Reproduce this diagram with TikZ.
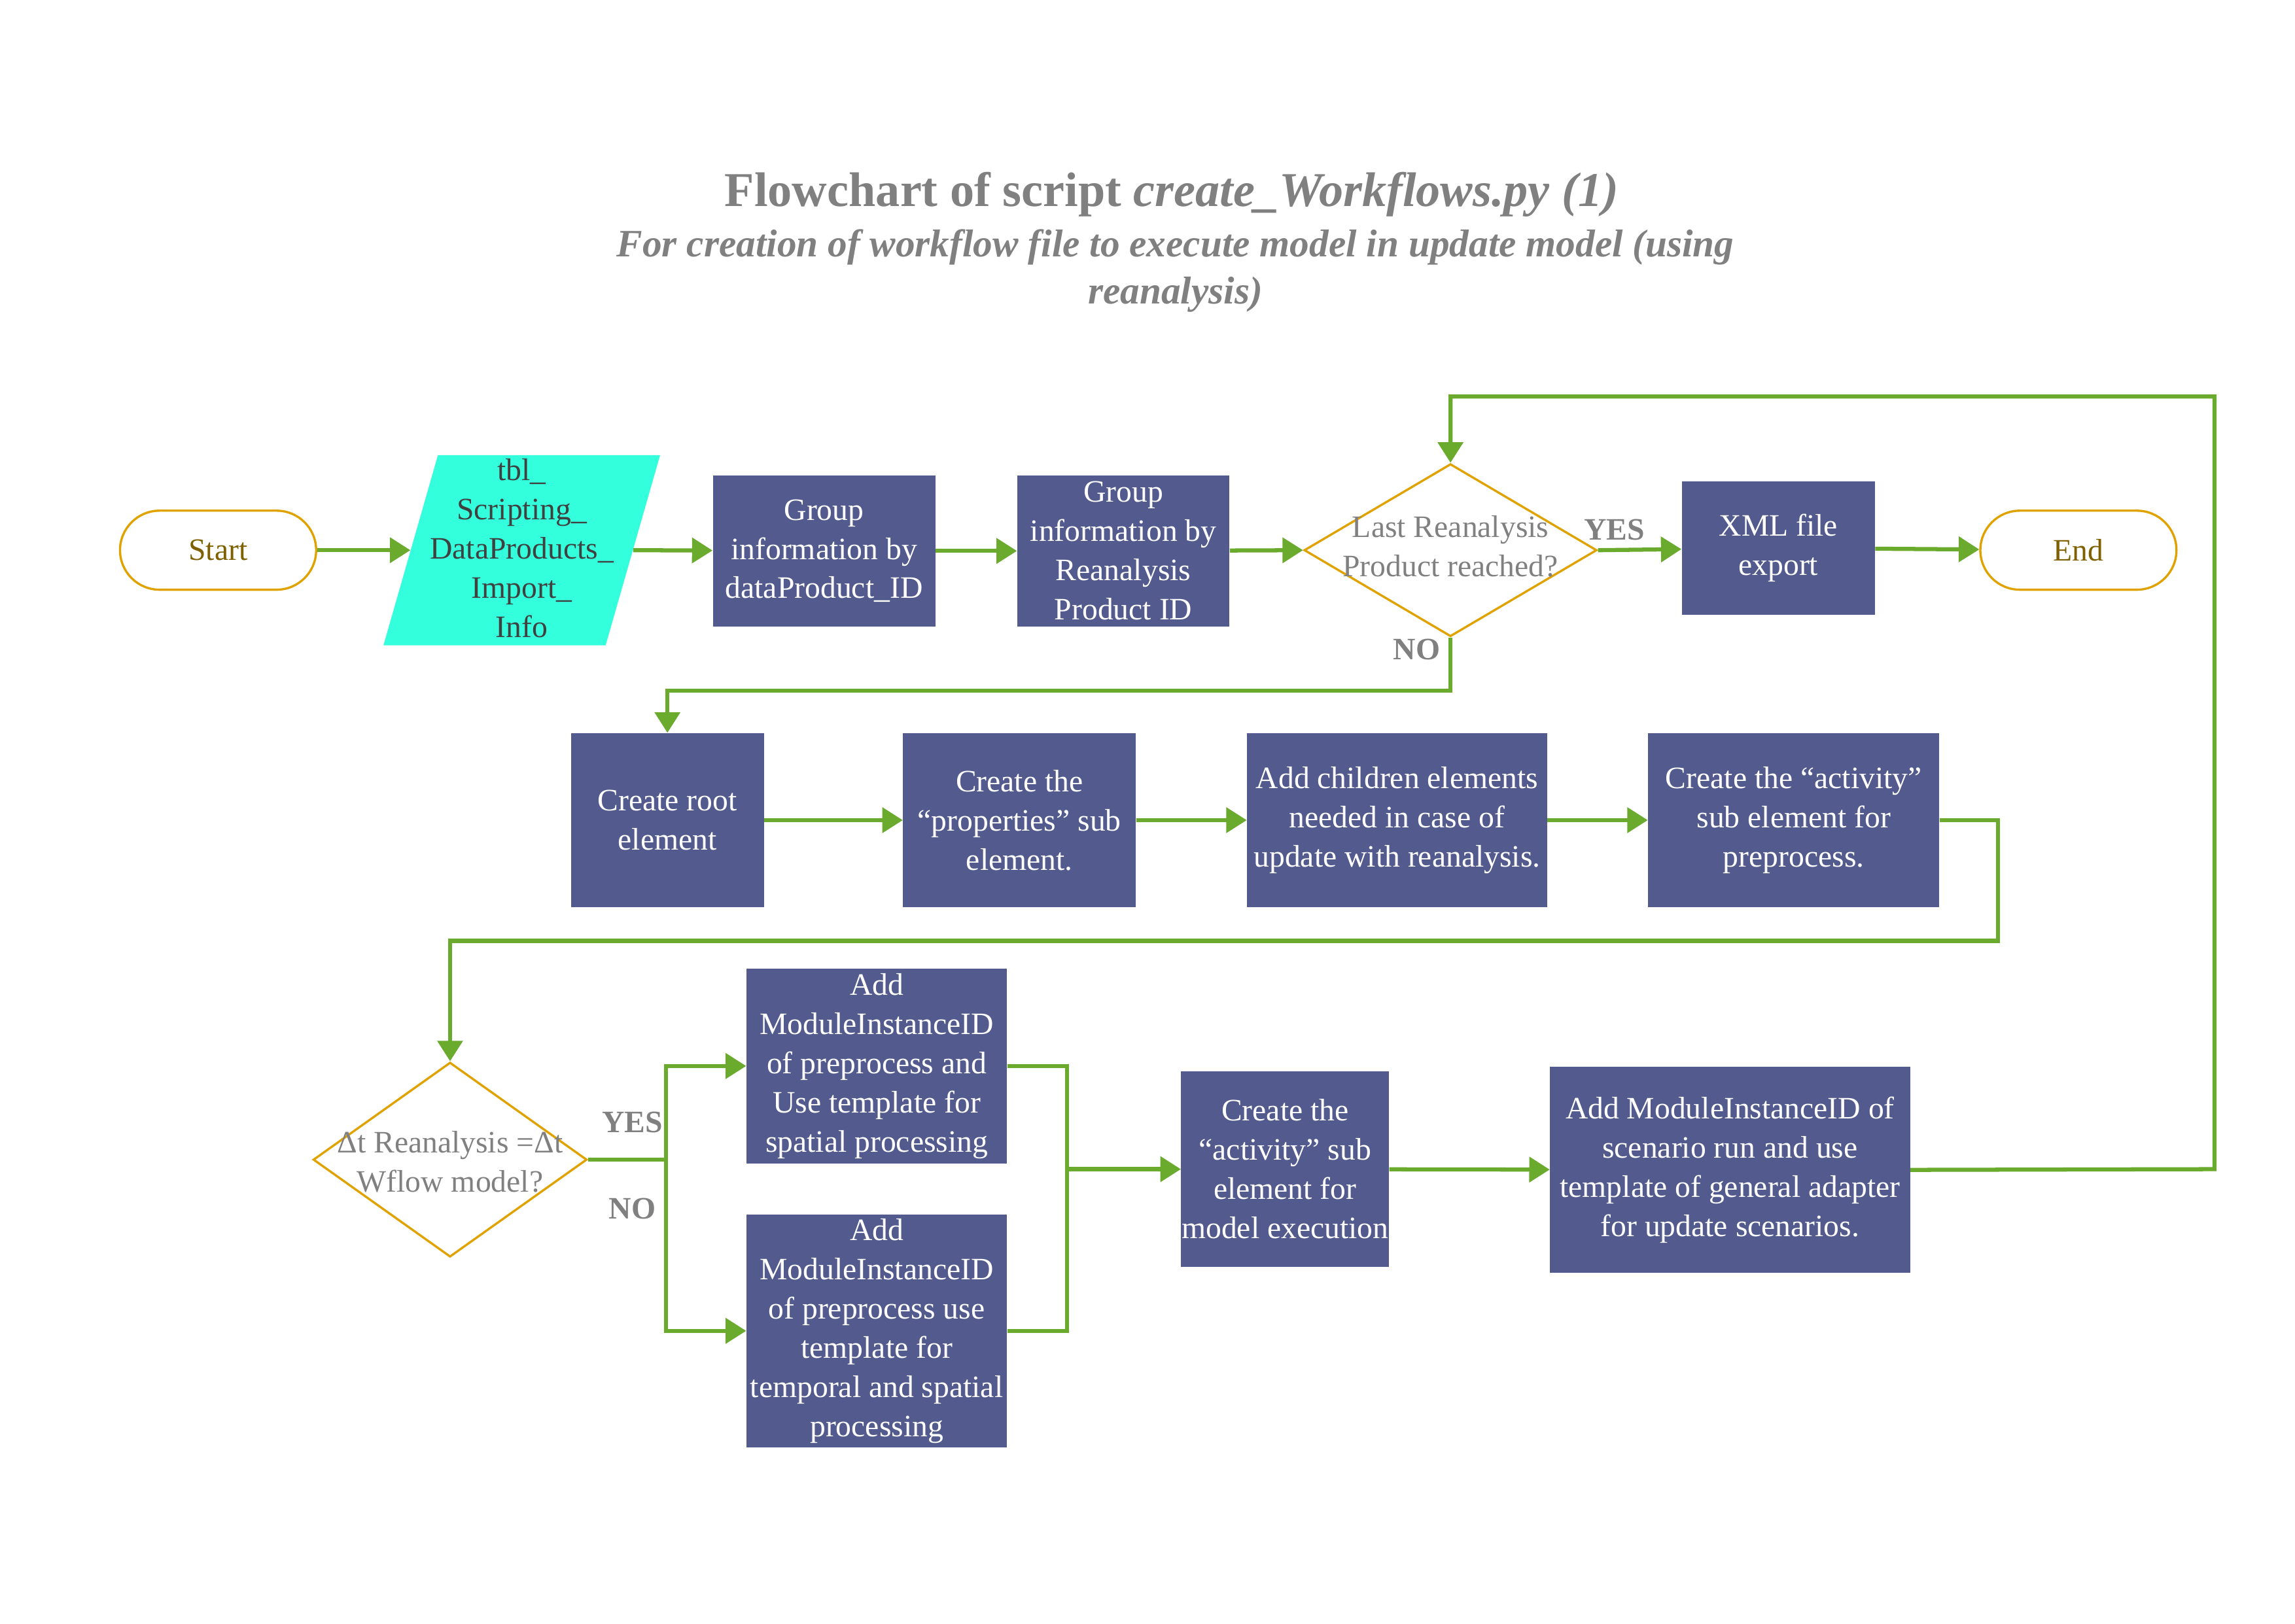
\documentclass[tikz,border=0pt]{standalone}
\usepackage{fontspec}
\setmainfont{Liberation Serif}
\usetikzlibrary{shapes.geometric,arrows.meta}
\definecolor{procblue}{HTML}{525A8E}
\definecolor{flowgreen}{HTML}{6AAB2E}
\definecolor{termorange}{HTML}{DFA200}
\definecolor{termtext}{HTML}{7F6000}
\definecolor{datacyan}{HTML}{33FFDD}
\definecolor{labelgray}{HTML}{808080}
\definecolor{datatext}{HTML}{404040}
\newcommand{\bodyfont}{\fontsize{21.3}{26.8}\selectfont}

\begin{document}
\begin{tikzpicture}[x=1pt, y=-1pt, >={Triangle[length=14pt,width=17pt]},
    process/.style={rectangle, fill=procblue, text=white, font=\bodyfont, align=center, inner sep=0pt},
    terminal/.style={rectangle, draw=termorange, line width=1.5pt, rounded corners=27pt, minimum width=134pt, minimum height=54pt, text=termtext, font=\bodyfont},
    decision/.style={diamond, draw=termorange, line width=1.5pt, inner sep=1pt},
    nodetext/.style={font=\bodyfont, align=center, inner sep=0pt},
    answer/.style={text=labelgray, font=\bodyfont\bfseries, inner sep=0pt},
    flow/.style={draw=flowgreen, line width=2.8pt}]
        \useasboundingbox (0,0) rectangle (1568,1109.8);

        % Title
        \node (title) [text=labelgray, font=\fontsize{33.2}{40}\selectfont\bfseries] at (800.5,133)
            {Flowchart of script \textit{create\_Workflows.py (1)}};
        \node (subtitle) [text=labelgray, font=\fontsize{26.5}{32}\selectfont\bfseries\itshape, align=center] at (803,185)
            {For creation of workflow file to execute model in update model (using\\reanalysis)};

        % Nodes
        \node (start) [terminal] at (149,376) {Start};
        \node (tbl) [trapezium, trapezium left angle=72, trapezium right angle=108, trapezium stretches=true, fill=datacyan, inner sep=1pt, minimum width=189pt, minimum height=130pt] at (356.5,376) {};
        \node (tbltext) [nodetext, text=datatext] at ([yshift=1.5pt]tbl.center) {tbl\_\\Scripting\_\\DataProducts\_\\Import\_\\Info};
        \node (groupdp) [process, minimum width=152pt, minimum height=103pt] at (563,376.5) {Group\\information by\\dataProduct\_ID};
        \node (groupre) [process, minimum width=145pt, minimum height=103pt] at (767.5,376.5) {Group\\information by\\Reanalysis\\Product ID};
        \node (last) [decision, minimum width=200pt, minimum height=118pt] at (991,376) {};
        \node (lasttext) [nodetext, text=labelgray] at ([yshift=2.5pt]last.center) {Last Reanalysis\\Product reached?};
        \node (xml) [process, minimum width=132pt, minimum height=91pt] at (1215,374.5) {XML file\\export};
        \node (end) [terminal] at (1420,376) {End};

        \node (root) [process, minimum width=132pt, minimum height=119pt] at (456,560.5) {Create root\\element};
        \node (props) [process, minimum width=159pt, minimum height=119pt] at (696.5,560.5) {Create the\\“properties” sub\\element.};
        \node (children) [process, minimum width=205pt, minimum height=119pt] at (954.5,560.5) {Add children elements\\needed in case of\\update with reanalysis.};
        \node (actpre) [process, minimum width=199pt, minimum height=119pt] at (1225.5,560.5) {Create the “activity”\\sub element for\\preprocess.};

        \node (dt) [decision, minimum width=187pt, minimum height=133pt] at (307.5,792.5) {};
        \node (dttext) [nodetext, text=labelgray] at ([yshift=-1.5pt]dt.center) {Δt Reanalysis =Δt\\Wflow model?};
        \node (spatial) [process, minimum width=178pt, minimum height=133pt] at (599,728.5) {Add\\ModuleInstanceID\\of preprocess and\\Use template for\\spatial processing};
        \node (temporal) [process, minimum width=178pt, minimum height=159pt] at (599,909.5) {Add\\ModuleInstanceID\\of preprocess use\\template for\\temporal and spatial\\processing};
        \node (actmodel) [process, minimum width=142pt, minimum height=134pt] at (878,799) {Create the\\“activity” sub\\element for\\model execution};
        \node (scenario) [process, minimum width=246pt, minimum height=141pt] at (1182,799.5) {Add ModuleInstanceID of\\scenario run and use\\template of general adapter\\for update scenarios.};

        % Labels
        \node (yes1) [answer] at (1103,362) {YES};
        \node (no1) [answer] at (968,444) {NO};
        \node (yes2) [answer] at (432,767) {YES};
        \node (no2) [answer] at (432,826) {NO};

        % Edges
        \draw[flow, ->] (start) -- (tbl.west);
        \draw[flow, ->] (tbl.east) -- (groupdp);
        \draw[flow, ->] (groupdp) -- (groupre);
        \draw[flow, ->] (groupre) -- (last.west);
        \draw[flow, ->] (last.east) -- (xml);
        \draw[flow, ->] (xml) -- (end);
        \draw[flow, ->] (last.south) -- (991,472) -| (root.north);

        \draw[flow, ->] (root) -- (props);
        \draw[flow, ->] (props) -- (children);
        \draw[flow, ->] (children) -- (actpre);
        \draw[flow, ->] (actpre.east) -- (1365,560.5) -- (1365,643) -| (dt.north);

        \coordinate (split) at (455,792.5);
        \coordinate (join) at (729,799);
        \draw[flow] (dt.east) -- (split);
        \draw[flow, ->] (split) |- (spatial.west);
        \draw[flow, ->] (split) |- (temporal.west);
        \draw[flow] (spatial.east) -| (join);
        \draw[flow] (temporal.east) -| (join);
        \draw[flow, ->] (join) -- (actmodel.west);
        \draw[flow, ->] (actmodel) -- (scenario);
        \draw[flow, ->] (scenario.east) -- (1513,799) -- (1513,271) -| (last.north);
    \end{tikzpicture}
\end{document}
